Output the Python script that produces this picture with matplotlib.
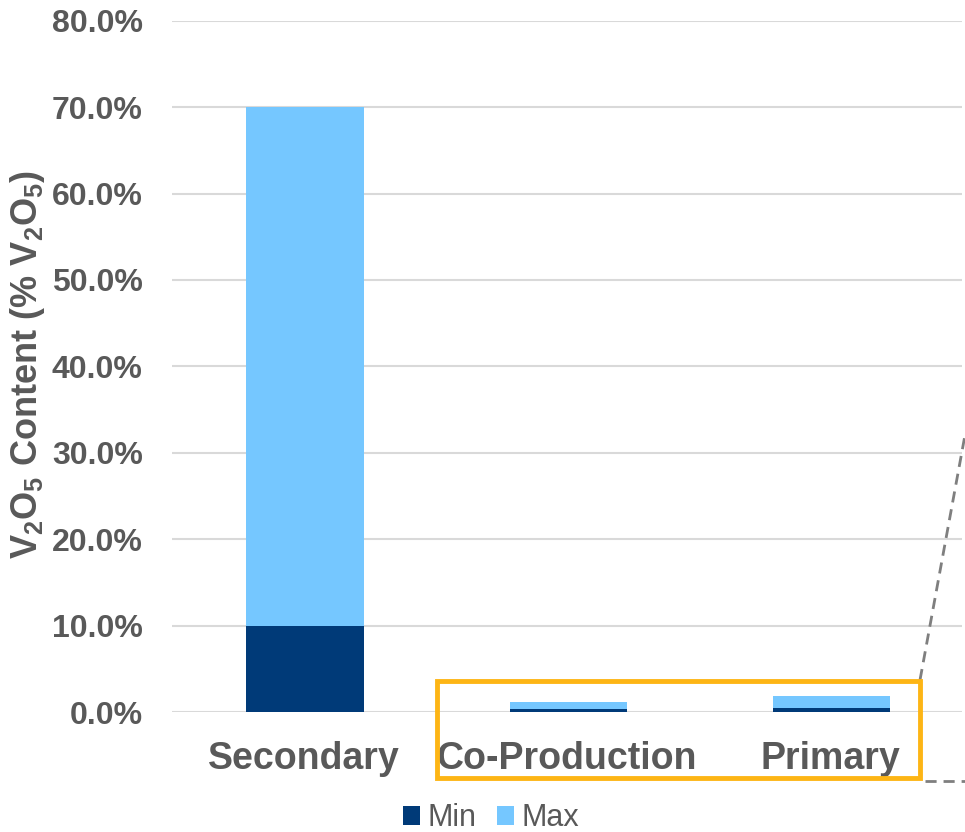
import matplotlib
matplotlib.use('Agg')
import matplotlib.pyplot as plt
from matplotlib.ticker import FuncFormatter
from matplotlib.patches import Rectangle
from matplotlib.lines import Line2D
import numpy as np

plt.rcParams['font.family'] = ['Liberation Sans', 'DejaVu Sans']
plt.rcParams['mathtext.fontset'] = 'custom'
plt.rcParams['mathtext.rm'] = 'Liberation Sans:bold'
plt.rcParams['mathtext.bf'] = 'Liberation Sans:bold'
plt.rcParams['mathtext.default'] = 'rm'

# V2O5 content ranges (%)
categories = ['Secondary', 'Co-Production', 'Primary']
min_vals = [10.0, 0.3, 0.5]
max_vals = [70.0, 1.1, 1.8]

dark = '#003A78'
light = '#75C7FF'
grey = '#595959'

fig = plt.figure(figsize=(9.65, 8.32), dpi=100)
ax = fig.add_axes([172/965, 1 - 712/832, 790/965, (712 - 20.7)/832])

x = np.arange(len(categories))
mins = np.array(min_vals)
maxs = np.array(max_vals)
ax.bar(x + 0.005, mins, width=0.446, color=dark, label='Min', zorder=3)
ax.bar(x + 0.005, maxs - mins, bottom=mins, width=0.446, color=light, label='Max', zorder=3)

ax.set_xlim(-0.5, 2.5)
ax.set_ylim(0, 80)
ax.set_yticks(np.arange(0, 81, 10))
ax.yaxis.set_major_formatter(FuncFormatter(lambda v, p: f'{v:.1f}%'))
ax.grid(axis='y', color='#d9d9d9', linewidth=1.5, zorder=0)
for s in ax.spines.values():
    s.set_visible(False)
ax.tick_params(axis='both', length=0)
ax.tick_params(axis='y', pad=21, labelsize=23, labelcolor=grey)
ax.tick_params(axis='x', pad=21, labelsize=27, labelcolor=grey)
ax.set_xticks(x)
ax.set_xticklabels(categories, fontweight='bold')
for t in ax.get_yticklabels():
    t.set_fontweight('bold')

fig.text(28/965, 1 - 365/832, r'V$_2$O$_5$ Content (% V$_2$O$_5$)', rotation=90,
         ha='center', va='center', fontsize=26, fontweight='bold', color=grey)

# highlight box and callout lines
fig.add_artist(Rectangle((437/965, 1 - 778/832), (920 - 437)/965, (778 - 681)/832,
                         transform=fig.transFigure, fill=False, edgecolor='#FDB515',
                         linewidth=3.5, zorder=5))
fig.add_artist(Line2D([920/965, 1.0], [1 - 680/832, 1 - 435/832], transform=fig.transFigure,
                      color='#7f7f7f', linestyle=(0, (4, 2.5)), linewidth=2))
fig.add_artist(Line2D([925/965, 1.0], [1 - 780.5/832, 1 - 780.5/832], transform=fig.transFigure,
                      color='#7f7f7f', linestyle=(0, (4, 2.5)), linewidth=2))

leg = fig.legend(loc='center', bbox_to_anchor=(491/965, 1 - 818/832), ncol=2, frameon=False,
                 fontsize=22, handlelength=0.56, handleheight=0.56, handletextpad=0.26,
                 columnspacing=0.65, labelcolor=grey, borderpad=0)

fig.savefig('out.png', dpi=100)
